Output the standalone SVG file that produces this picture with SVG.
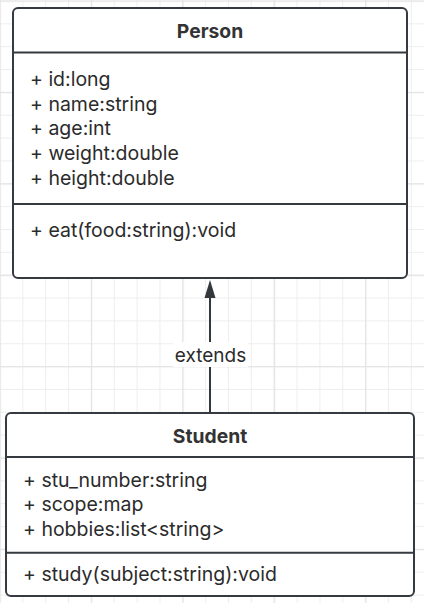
<svg xmlns="http://www.w3.org/2000/svg" width="424" height="603" viewBox="0 0 424 603">
<defs>
<pattern id="grid" width="22.85" height="22.85" patternUnits="userSpaceOnUse" x="-0.5" y="0.5">
<path d="M0 0.5H22.85M0.5 0V22.85" stroke="#eeeeee" stroke-width="1" fill="none"/>
</pattern>
<pattern id="grid4" width="91.4" height="91.4" patternUnits="userSpaceOnUse" x="-0.5" y="0.5">
<path d="M0 0.6H91.4M0.6 0V91.4" stroke="#e4e4e4" stroke-width="1.3" fill="none"/>
</pattern>
</defs>
<style>
.box{fill:#ffffff;stroke:#353a40;stroke-width:2}
.sep{stroke:#353a40;stroke-width:2}
.title{font-family:Inter,"Open Sans","Liberation Sans",sans-serif;font-weight:bold;font-size:19.3px;fill:#333333;text-anchor:middle}
.txt{font-family:Inter,"Open Sans","Liberation Sans",sans-serif;font-size:19.5px;fill:#2b2b2b}
.lbl{font-family:Inter,"Open Sans","Liberation Sans",sans-serif;font-size:19px;fill:#2b2b2b;text-anchor:middle}
</style>
<rect width="424" height="603" fill="#ffffff"/>
<rect width="424" height="603" fill="url(#grid)"/>
<rect width="424" height="603" fill="url(#grid4)"/>

<g id="connectors">
<line x1="210" y1="413" x2="210" y2="296" stroke="#33383d" stroke-width="2"/>
<path d="M210 280L215.5 298H204.5Z" fill="#33383d"/>
<rect x="173" y="342" width="75" height="25" fill="#ffffff"/>
<text class="lbl" x="210.5" y="361.5">extends</text>
</g>

<g id="person">
<rect class="box" x="13" y="8" width="394" height="270" rx="5"/>
<line class="sep" x1="13" y1="52.5" x2="407" y2="52.5"/>
<line class="sep" x1="13" y1="204" x2="407" y2="204"/>
<text class="title" x="210" y="37.5">Person</text>
<text class="txt" x="30" y="86">+ id:long</text>
<text class="txt" x="30" y="110.7">+ name:string</text>
<text class="txt" x="30" y="135.4">+ age:int</text>
<text class="txt" x="30" y="160.1">+ weight:double</text>
<text class="txt" x="30" y="184.8">+ height:double</text>
<text class="txt" x="30" y="236.7">+ eat(food:string):void</text>
</g>

<g id="student">
<rect class="box" x="6" y="413" width="408" height="183" rx="5"/>
<line class="sep" x1="6" y1="457" x2="414" y2="457"/>
<line class="sep" x1="6" y1="552.7" x2="414" y2="552.7"/>
<text class="title" x="210" y="442.5">Student</text>
<text class="txt" x="23" y="486.7">+ stu_number:string</text>
<text class="txt" x="23" y="511.4">+ scope:map</text>
<text class="txt" x="23" y="536.1">+ hobbies:list&lt;string&gt;</text>
<text class="txt" x="23" y="580.5">+ study(subject:string):void</text>
</g>
</svg>
